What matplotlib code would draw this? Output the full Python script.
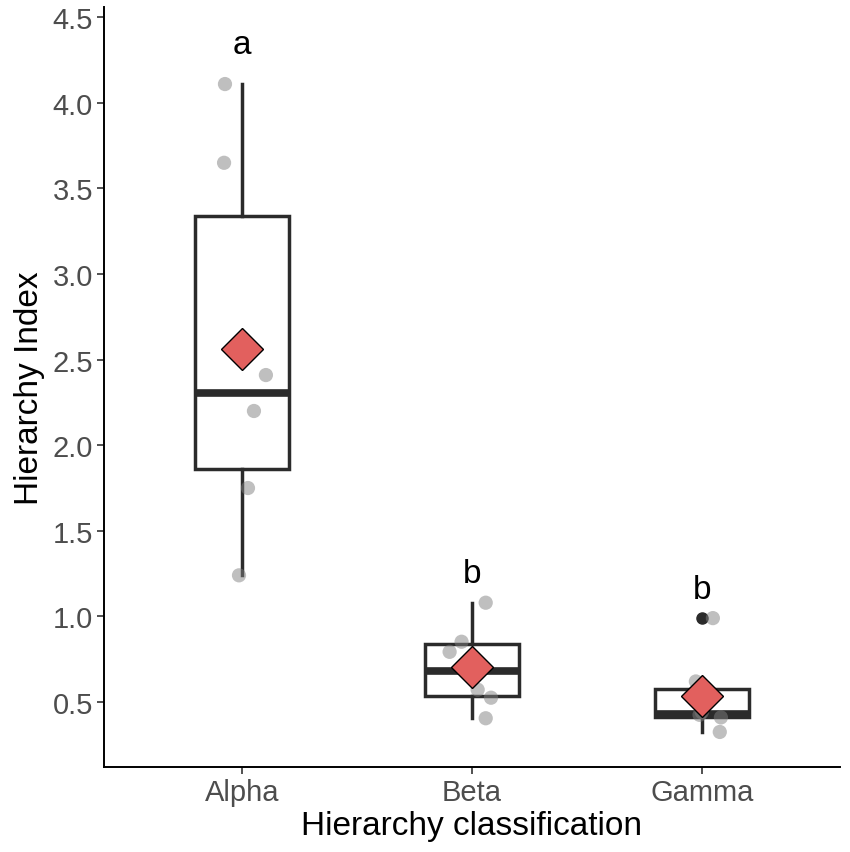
import matplotlib.pyplot as plt
import numpy as np

plt.rcParams['font.family'] = ['Liberation Sans', 'DejaVu Sans']

# data
categories = ['Alpha', 'Beta', 'Gamma']
alpha_vals = [4.11, 3.65, 2.41, 2.20, 1.75, 1.24]
beta_vals = [1.08, 0.852, 0.793, 0.572, 0.525, 0.405]
gamma_vals = [0.99, 0.62, 0.425, 0.44, 0.41, 0.325]
letters = ['a', 'b', 'b']
letter_y = [4.34, 1.25, 1.16]

# horizontal jitter of the raw points (as seen in the picture)
alpha_jit = [-0.074, -0.078, 0.104, 0.052, 0.026, -0.013]
beta_jit = [0.06, -0.045, -0.097, 0.025, 0.083, 0.06]
gamma_jit = [0.048, -0.026, -0.01, 0.0, 0.083, 0.078]

groups = [alpha_vals, beta_vals, gamma_vals]
jitters = [alpha_jit, beta_jit, gamma_jit]
pos = np.arange(1, len(categories) + 1)

fig = plt.figure(figsize=(8.5, 8.53), dpi=100)
ax = fig.add_axes([0.1224, 0.0996, 0.8656, 0.891])

line_col = '#2b2b2b'
ax.boxplot(groups, positions=pos, widths=0.41, showcaps=False,
           patch_artist=True, whis=1.5,
           boxprops=dict(facecolor='white', edgecolor=line_col, linewidth=2.5),
           whiskerprops=dict(color=line_col, linewidth=2.5),
           medianprops=dict(color=line_col, linewidth=5.5, solid_capstyle='butt'),
           flierprops=dict(marker='o', markerfacecolor=line_col,
                           markeredgecolor=line_col, markersize=8),
           zorder=2)

for p, vals, jit in zip(pos, groups, jitters):
    ax.scatter(p + np.array(jit), vals, s=105, color='gray', alpha=0.5,
               edgecolors='none', zorder=3)
    ax.plot(p, np.mean(vals), marker='D', markersize=21, color='#E2605E',
            markeredgecolor='black', markeredgewidth=1.0, zorder=4)

for p, lab, ly in zip(pos, letters, letter_y):
    ax.text(p, ly, lab, ha='center', va='center', fontsize=24, color='black')

ax.set_xlim(0.4, 3.6)
ax.set_ylim(0.12, 4.56)
ax.set_xticks(pos)
ax.set_xticklabels(categories)
ax.set_yticks(np.arange(0.5, 4.51, 0.5))
ax.set_yticklabels(['%.1f' % v for v in np.arange(0.5, 4.51, 0.5)])

for s in ['top', 'right']:
    ax.spines[s].set_visible(False)
for s in ['left', 'bottom']:
    ax.spines[s].set_linewidth(1.4)
    ax.spines[s].set_color('black')
ax.tick_params(axis='both', labelsize=21, labelcolor='#4D4D4D',
               length=5, width=1.2, color='#333333', pad=3)

ax.set_xlabel('Hierarchy classification', fontsize=24, labelpad=3)
ax.set_ylabel('Hierarchy Index', fontsize=24, labelpad=5)

fig.savefig('out.png', dpi=100)
